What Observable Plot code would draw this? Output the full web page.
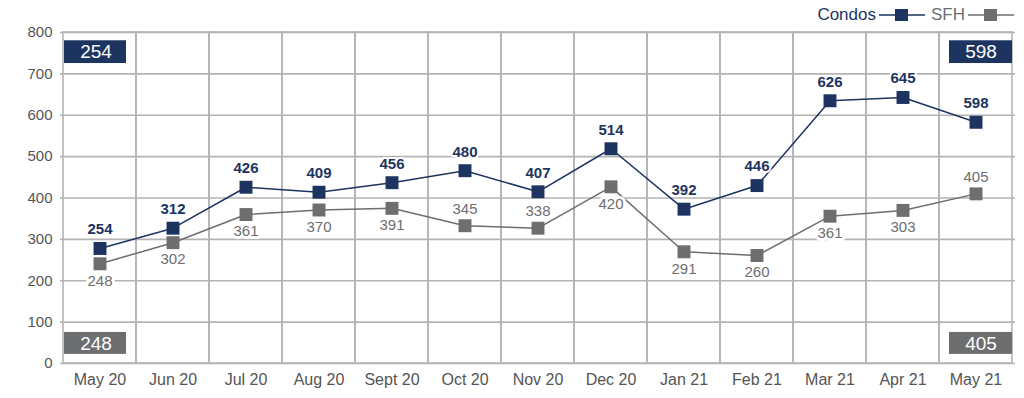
<!DOCTYPE html>
<html>
<head>
<meta charset="utf-8">
<script src="https://cdn.jsdelivr.net/npm/d3@7"></script>
<script src="https://cdn.jsdelivr.net/npm/@observablehq/plot@0.6"></script>
<style>
  body { margin: 0; background: #fff; font-family: "Liberation Sans", Arial, Helvetica, sans-serif; position: relative; }
  #legend { position: absolute; top: 4px; right: 10px; height: 22px; display: flex; align-items: center; font-size: 17px; }
  #legend .item { display: flex; align-items: center; margin-left: 6px; }
  #legend svg { margin-left: 3px; }
  #chart svg { display: block; }
</style>
</head>
<body>
<div id="chart"></div>
<div id="legend"></div>
<script>
const months = ["May 20","Jun 20","Jul 20","Aug 20","Sept 20","Oct 20","Nov 20","Dec 20","Jan 21","Feb 21","Mar 21","Apr 21","May 21"];
// plotted positions (as drawn in the picture)
const condosValues = [278, 327, 426, 414, 437, 466, 415, 519, 373, 430, 635, 643, 583];
const sfhValues    = [241, 292, 360, 371, 375, 333, 327, 427, 270, 261, 356, 370, 410];
// printed labels
const condosLabels = [254, 312, 426, 409, 456, 480, 407, 514, 392, 446, 626, 645, 598];
const sfhLabels    = [248, 302, 361, 370, 391, 345, 338, 420, 291, 260, 361, 303, 405];
const sfhLabelAbove = ["Oct 20", "Nov 20", "May 21"];
const yTicks = [0, 100, 200, 300, 400, 500, 600, 700, 800];

const NAVY = "#1d3461";
const GRAY = "#6d6e70";
const GRID = "#b4b4b4";

const condos = months.map((m, i) => ({month: m, value: condosValues[i], label: condosLabels[i]}));
const sfh = months.map((m, i) => ({month: m, value: sfhValues[i], label: sfhLabels[i]}));
const first = months[0], last = months[months.length - 1];

// legend
const legend = document.getElementById("legend");
function sym(color) {
  return `<svg width="46" height="14"><line x1="0" y1="7" x2="46" y2="7" stroke="${color}" stroke-width="1.5"/><rect x="16" y="1" width="13" height="12" fill="${color}"/></svg>`;
}
legend.innerHTML = `<span class="item" style="color:${NAVY}">Condos${sym(NAVY)}</span><span class="item" style="color:${GRAY}">SFH${sym(GRAY)}</span>`;

const chart = Plot.plot({
  width: 1024,
  height: 398,
  marginTop: 32,
  marginBottom: 35,
  marginLeft: 60,
  marginRight: 9,
  style: {fontFamily: "Liberation Sans, Arial, Helvetica, sans-serif", fontSize: "15px", color: "#555"},
  x: {domain: months, padding: 0, label: null, tickSize: 0, tickPadding: 10},
  y: {domain: [0, 800], ticks: yTicks, label: null, tickSize: 0, tickPadding: 8},
  marks: [
    Plot.gridY(yTicks, {stroke: GRID, strokeOpacity: 1, strokeWidth: 1.6}),
    Plot.barY(months, {x: d => d, y1: 0, y2: 800, fill: "none", stroke: GRID, strokeWidth: 1.6}),
    // corner boxes
    Plot.barY([first], {x: d => d, y1: 725, y2: 780, fill: NAVY, insetLeft: 1, insetRight: 10}),
    Plot.barY([last], {x: d => d, y1: 725, y2: 780, fill: NAVY, insetLeft: 10, insetRight: 0}),
    Plot.barY([first], {x: d => d, y1: 22, y2: 75, fill: GRAY, insetLeft: 1, insetRight: 10}),
    Plot.barY([last], {x: d => d, y1: 22, y2: 75, fill: GRAY, insetLeft: 10, insetRight: 0}),
    Plot.text([condos[0]], {x: "month", y: 752, text: d => d.label, fill: "white", fontSize: 19, dx: -4}),
    Plot.text([condos[condos.length - 1]], {x: "month", y: 752, text: d => d.label, fill: "white", fontSize: 19, dx: 5}),
    Plot.text([sfh[0]], {x: "month", y: 48, text: d => d.label, fill: "white", fontSize: 19, dx: -4}),
    Plot.text([sfh[sfh.length - 1]], {x: "month", y: 48, text: d => d.label, fill: "white", fontSize: 19, dx: 5}),
    // lines
    Plot.line(sfh, {x: "month", y: "value", stroke: GRAY, strokeWidth: 1.5}),
    Plot.line(condos, {x: "month", y: "value", stroke: NAVY, strokeWidth: 1.5}),
    Plot.dot(sfh, {x: "month", y: "value", symbol: "square", r: 7.3, fill: GRAY}),
    Plot.dot(condos, {x: "month", y: "value", symbol: "square", r: 7.3, fill: NAVY}),
    // labels
    Plot.text(sfh.filter(d => !sfhLabelAbove.includes(d.month)), {x: "month", y: "value", text: d => d.label, dy: 17, fill: GRAY, fontSize: 15, stroke: "white", strokeWidth: 6}),
    Plot.text(sfh.filter(d => sfhLabelAbove.includes(d.month)), {x: "month", y: "value", text: d => d.label, dy: -17, fill: GRAY, fontSize: 15, stroke: "white", strokeWidth: 6}),
    Plot.text(condos, {x: "month", y: "value", text: d => d.label, dy: -19, fill: NAVY, fontSize: 15, fontWeight: "bold", stroke: "white", strokeWidth: 4})
  ]
});
chart.querySelectorAll('[aria-label="x-axis tick label"] text').forEach(t => t.setAttribute("font-size", "16"));
document.getElementById("chart").appendChild(chart);
</script>
</body>
</html>
